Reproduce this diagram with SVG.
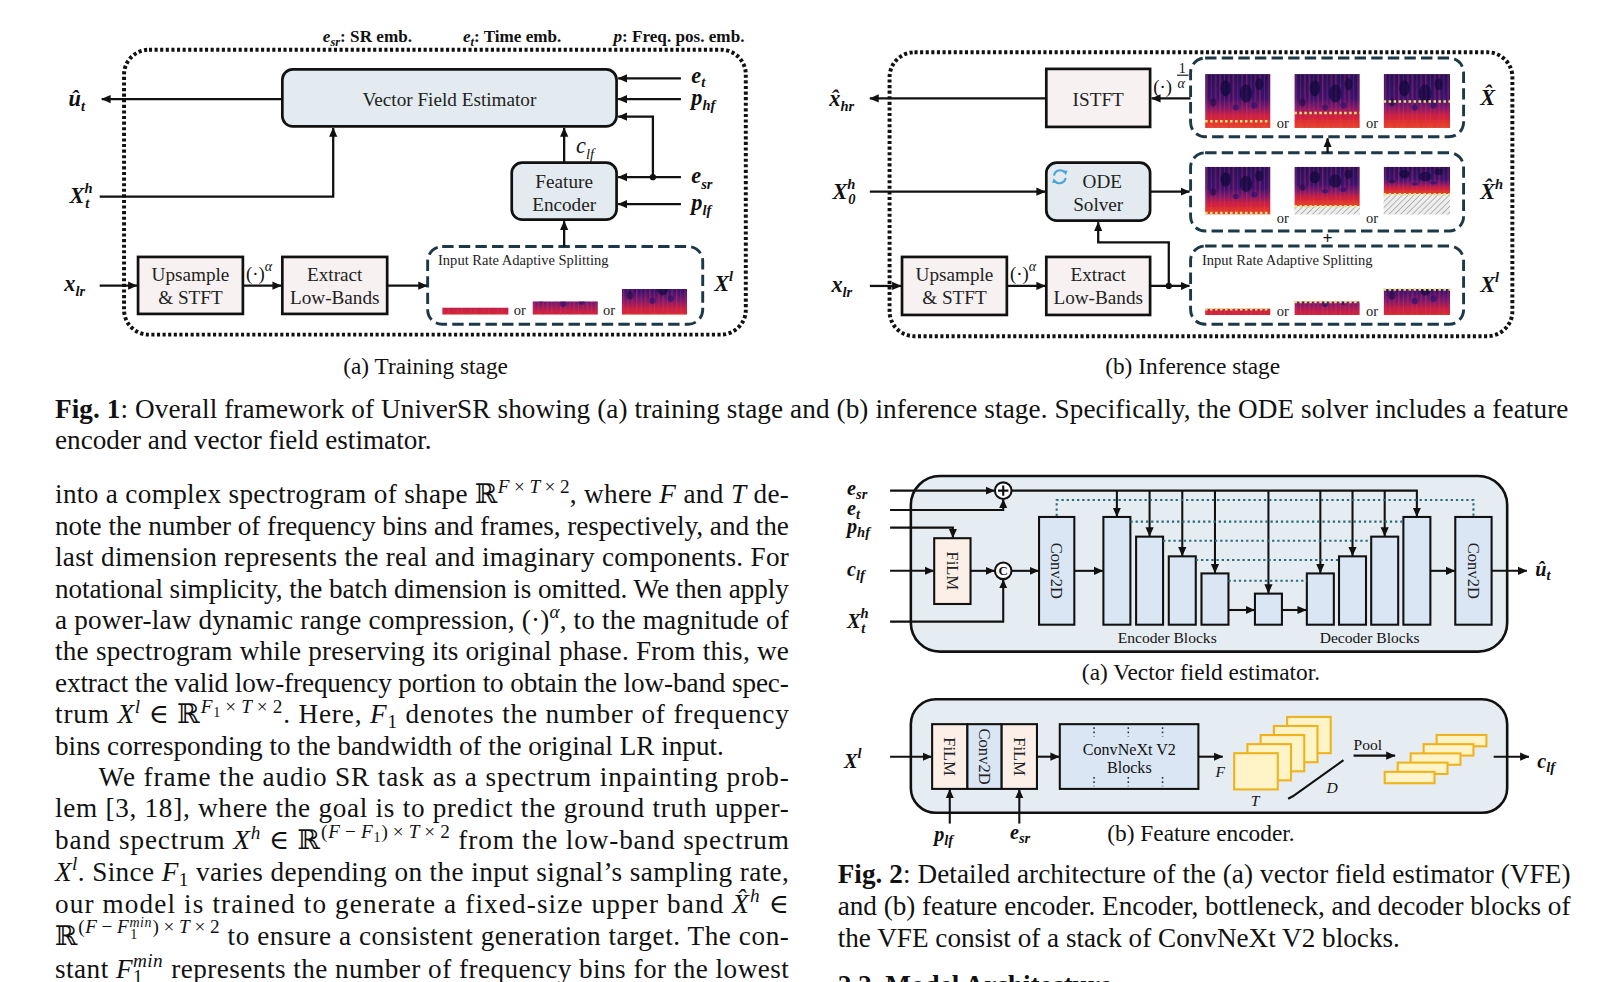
<svg xmlns="http://www.w3.org/2000/svg" width="1624" height="982" viewBox="0 0 1624 982">
<defs>
<style>
.s{font-family:"Liberation Serif","Times New Roman","DejaVu Serif",serif;fill:#111}
.lb{font-weight:bold;font-style:italic;font-size:21.5px}
.lb2{font-weight:bold;font-style:italic;font-size:19.5px}
.sb{font-size:14px}
.it{font-style:italic}
.bx{font-size:18.5px;text-anchor:middle;fill:#222}
.sm{font-size:14px;fill:#222}
.or{font-size:14px;fill:#222}
.cap{font-size:22.5px;text-anchor:middle}
.body{font-size:26.2px}
.sp{font-size:18.5px}
.ss{font-size:13.5px}
.ln{fill:none;stroke:#111;stroke-width:2.2}
.ln2{fill:none;stroke:#111;stroke-width:2}
.ar{marker-end:url(#ah)}
.box{stroke:#111;stroke-width:2.6}
.fb{fill:#e3ebf0}
.fp{fill:#f8f1f1}
.dot{fill:none;stroke:#111;stroke-width:3.8;stroke-dasharray:3 2.4}
.dash{fill:none;stroke:#1d3846;stroke-width:2.8;stroke-dasharray:11 5}
.panel{fill:#e6edf2;stroke:#111;stroke-width:2.5}
.blk{fill:#dae6f3;stroke:#111;stroke-width:2}
.film{fill:#fcefe8;stroke:#111;stroke-width:2}
.skip{fill:none;stroke:#2b6b7c;stroke-width:2;stroke-dasharray:2.2 2.8}
.yl{fill:#fff3c8;stroke:#f0b21c;stroke-width:2}
.ydot{fill:none;stroke:#e6e27a;stroke-width:2.4;stroke-dasharray:2.4 2.4}
.rot{font-size:16px;text-anchor:middle;fill:#222}
</style>
<marker id="ah" viewBox="0 0 10 10" refX="9.5" refY="5" markerWidth="9" markerHeight="9" markerUnits="userSpaceOnUse" orient="auto"><path d="M0,0.6 L10,5 L0,9.4 z" fill="#111"/></marker>
<linearGradient id="sg" x1="0" y1="0" x2="0" y2="1">
<stop offset="0" stop-color="#24105a"/><stop offset="0.45" stop-color="#38136e"/><stop offset="0.62" stop-color="#7a1a6c"/><stop offset="0.76" stop-color="#c82042"/><stop offset="0.9" stop-color="#dc2c2c"/><stop offset="1" stop-color="#e4462a"/>
</linearGradient>
<pattern id="vs" width="13" height="53" patternUnits="userSpaceOnUse">
<rect x="1" width="1.3" height="53" fill="#d82a68" opacity="0.5"/><rect x="5.5" width="0.8" height="53" fill="#f04a78" opacity="0.3"/><rect x="9.5" width="1.6" height="53" fill="#c82458" opacity="0.4"/>
</pattern>
<pattern id="hatch" width="4" height="4" patternUnits="userSpaceOnUse" patternTransform="rotate(45)"><rect width="4" height="4" fill="#eeeeee"/><line x1="0" y1="0" x2="0" y2="4" stroke="#a9a9a9" stroke-width="1.6"/></pattern>
<g id="specC">
<rect width="64" height="53" fill="url(#sg)"/>
<rect width="64" height="53" fill="url(#vs)"/>
<ellipse cx="20" cy="14" rx="5" ry="8" fill="#10083c" opacity="0.75"/>
<ellipse cx="40" cy="19" rx="6" ry="9" fill="#10083c" opacity="0.65"/>
<ellipse cx="53" cy="10" rx="4" ry="6" fill="#10083c" opacity="0.65"/>
<ellipse cx="8" cy="28" rx="3" ry="4" fill="#10083c" opacity="0.5"/>
<ellipse cx="30" cy="33" rx="3" ry="3" fill="#20106a" opacity="0.6"/>
<ellipse cx="48" cy="31" rx="3" ry="3" fill="#20106a" opacity="0.6"/>
<rect x="0" y="45" width="64" height="8" fill="#ef4a2e" opacity="0.3"/>
</g>
<symbol id="spF" viewBox="0 0 64 53" preserveAspectRatio="none"><use href="#specC"/></symbol>
<symbol id="spL24" viewBox="0 22 64 24" preserveAspectRatio="none"><use href="#specC"/></symbol>
<symbol id="spL12" viewBox="0 31 64 12" preserveAspectRatio="none"><use href="#specC"/></symbol>
<symbol id="spL6" viewBox="0 39 64 6" preserveAspectRatio="none"><use href="#specC"/></symbol>
</defs>
<rect width="1624" height="982" fill="#ffffff"/>
<g transform="scale(1.038 1.036)">

<!-- ============ FIG 1 (a) ============ -->
<g id="fig1a">
<g id="a-frame"><rect class="dot" x="119.5" y="48" width="599" height="275" rx="24"/></g>
<g id="a-legend" class="s" font-weight="bold" font-size="16.5">
<text x="311" y="41"><tspan class="it">e</tspan><tspan class="it" font-size="12" dy="3">sr</tspan><tspan dy="-3">: SR emb.</tspan></text>
<text x="446" y="41"><tspan class="it">e</tspan><tspan class="it" font-size="12" dy="3">t</tspan><tspan dy="-3">: Time emb.</tspan></text>
<text x="591" y="41"><tspan class="it">p</tspan>: Freq. pos. emb.</text>
</g>
<g id="a-vfe"><rect class="box fb" x="272" y="67" width="322" height="55" rx="10"/><text class="s bx" x="433" y="102.5">Vector Field Estimator</text></g>
<g id="a-fe"><rect class="box fb" x="493" y="157" width="101" height="55" rx="10"/><text class="s bx" x="543.5" y="181.5">Feature</text><text class="s bx" x="543.5" y="203.5">Encoder</text></g>
<g id="a-up"><rect class="box fp" x="133" y="248" width="101" height="55"/><text class="s bx" x="183.5" y="271.5">Upsample</text><text class="s bx" x="183.5" y="293.5">&amp; STFT</text></g>
<g id="a-ex"><rect class="box fp" x="272" y="248" width="101" height="55"/><text class="s bx" x="322.5" y="271.5">Extract</text><text class="s bx" x="322.5" y="293.5">Low-Bands</text></g>
<g id="a-split">
<rect class="dash" x="412" y="238" width="265" height="75" rx="14"/>
<text class="s sm" x="422" y="256">Input Rate Adaptive Splitting</text>
<use href="#spL6" x="426" y="297" width="64" height="6.5"/>
<text class="s or" x="495" y="304">or</text>
<use href="#spL12" x="513" y="291" width="63" height="12.5"/>
<text class="s or" x="581" y="304">or</text>
<use href="#spL24" x="599" y="279" width="63" height="24.5"/>
</g>
<g id="a-labels" class="s lb">
<text x="66" y="102">û<tspan class="sb" dy="5">t</tspan></text>
<text x="67" y="196">X<tspan class="sb" dy="-10">h</tspan><tspan class="sb" dx="-7" dy="15">t</tspan></text>
<text x="62" y="281">x<tspan class="sb" dy="5">lr</tspan></text>
<text x="666" y="80">e<tspan class="sb" dy="4">t</tspan></text>
<text x="666" y="101">p<tspan class="sb" dy="5">hf</tspan></text>
<text x="666" y="177">e<tspan class="sb" dy="5">sr</tspan></text>
<text x="666" y="203">p<tspan class="sb" dy="5">lf</tspan></text>
<text x="688" y="281">X<tspan class="sb" dy="-10">l</tspan></text>
<text x="555" y="148" font-weight="normal">c<tspan class="sb" dy="5">lf</tspan></text>
</g>
<g id="a-alpha" class="s"><text x="237" y="270" font-size="18">(·)</text><text x="255" y="262" font-size="13.5" font-style="italic">α</text></g>
<g id="a-connectors">
<path class="ln ar" d="M271,95.6 H98"/>
<path class="ln ar" d="M656,75.6 H595.5"/>
<path class="ln ar" d="M656,95.6 H595.5"/>
<path class="ln ar" d="M629,171 V112.6 H595.5"/>
<path class="ln ar" d="M656,171 H595.5"/>
<path class="ln ar" d="M656,197 H595.5"/>
<path class="ln ar" d="M543.5,157 V123.5"/>
<path class="ln ar" d="M96,189.8 H321 V123.5"/>
<path class="ln ar" d="M96,275.7 H132"/>
<path class="ln ar" d="M234,275.7 H271"/>
<path class="ln ar" d="M373,275.7 H411.5"/>
<path class="ln ar" d="M543.5,238 V213.5"/>
<circle cx="629" cy="171" r="3" fill="#111"/>
</g>
<text class="s cap" x="410" y="361">(a) Training stage</text>
</g>

<!-- ============ FIG 1 (b) ============ -->
<g id="fig1b">
<g id="b-frame"><rect class="dot" x="857" y="50.5" width="600" height="274" rx="24"/></g>
<g id="b-istft"><rect class="box fp" x="1008" y="66.5" width="100" height="56"/><text class="s bx" x="1058" y="102">ISTFT</text></g>
<g id="b-ode"><rect class="box fb" x="1008" y="157" width="100" height="56" rx="10"/>
<path d="M1015.4,169.4 A6,6 0 0 1 1026,166.6" fill="none" stroke="#4aa3d8" stroke-width="2"/><path d="M1023.6,164.4 L1028.4,164.8 L1026.8,169.2 z" fill="#4aa3d8"/>
<path d="M1026.6,171.8 A6,6 0 0 1 1016,174.6" fill="none" stroke="#4aa3d8" stroke-width="2"/><path d="M1018.4,176.8 L1013.6,176.4 L1015.2,172 z" fill="#4aa3d8"/>
<text class="s bx" x="1062" y="181">ODE</text><text class="s bx" x="1058" y="204">Solver</text></g>
<g id="b-up"><rect class="box fp" x="869" y="248" width="101" height="56"/><text class="s bx" x="919.5" y="271.5">Upsample</text><text class="s bx" x="919.5" y="293.5">&amp; STFT</text></g>
<g id="b-ex"><rect class="box fp" x="1008" y="248" width="100" height="56"/><text class="s bx" x="1058" y="271.5">Extract</text><text class="s bx" x="1058" y="293.5">Low-Bands</text></g>
<g id="b-xhat">
<rect class="dash" x="1147" y="56" width="263" height="76" rx="14"/>
<use href="#spF" x="1161" y="71.5" width="63" height="52"/><line class="ydot" x1="1161" y1="117" x2="1224" y2="117"/>
<text class="s or" x="1230" y="124">or</text>
<use href="#spF" x="1247" y="71.5" width="63" height="52"/><line class="ydot" x1="1247" y1="109" x2="1310" y2="109"/>
<text class="s or" x="1316" y="124">or</text>
<use href="#spF" x="1333" y="71.5" width="64" height="52"/><line class="ydot" x1="1333" y1="98" x2="1397" y2="98"/>
</g>
<g id="b-xhath">
<rect class="dash" x="1147" y="147.5" width="263" height="75.5" rx="14"/>
<use href="#spF" x="1161" y="161" width="63" height="46"/><line class="ydot" x1="1161" y1="205.5" x2="1224" y2="205.5"/>
<text class="s or" x="1230" y="215">or</text>
<use href="#spF" x="1247" y="161" width="63" height="38"/><rect x="1247" y="199" width="63" height="8" fill="url(#hatch)"/><line class="ydot" x1="1247" y1="199" x2="1310" y2="199"/>
<text class="s or" x="1316" y="215">or</text>
<use href="#spF" x="1333" y="161" width="64" height="26.5"/><rect x="1333" y="187.5" width="64" height="19.5" fill="url(#hatch)"/><line class="ydot" x1="1333" y1="187.5" x2="1397" y2="187.5"/>
</g>
<g id="b-split">
<rect class="dash" x="1147" y="237.5" width="263" height="75.5" rx="14"/>
<text class="s sm" x="1158" y="256">Input Rate Adaptive Splitting</text>
<use href="#spL6" x="1161" y="298" width="63" height="6"/><line class="ydot" x1="1161" y1="298.5" x2="1224" y2="298.5"/>
<text class="s or" x="1230" y="305">or</text>
<use href="#spL12" x="1247" y="291" width="63" height="13"/><line class="ydot" x1="1247" y1="291.5" x2="1310" y2="291.5"/>
<text class="s or" x="1316" y="305">or</text>
<use href="#spL24" x="1333" y="279" width="64" height="25"/><line class="ydot" x1="1333" y1="279.5" x2="1397" y2="279.5"/>
</g>
<g id="b-labels" class="s lb">
<text x="799" y="102">x&#x302;<tspan class="sb" dy="5">hr</tspan></text>
<text x="802" y="192">X<tspan class="sb" dy="-10">h</tspan><tspan class="sb" dx="-7" dy="15">0</tspan></text>
<text x="801" y="282">x<tspan class="sb" dy="5">lr</tspan></text>
<text x="1426" y="101">X&#x302;</text>
<text x="1426" y="192">X&#x302;<tspan class="sb" dy="-10">h</tspan></text>
<text x="1426" y="282">X<tspan class="sb" dy="-10">l</tspan></text>
</g>
<g id="b-alpha" class="s">
<text x="973" y="270" font-size="18">(·)</text><text x="991" y="262" font-size="13.5" font-style="italic">α</text>
<text x="1111" y="90" font-size="18">(·)</text>
<text x="1135.5" y="70" font-size="13.5">1</text><line x1="1134" y1="72.6" x2="1145" y2="72.6" stroke="#111" stroke-width="1.1"/><text x="1134.5" y="84.5" font-size="13.5" font-style="italic">α</text>
</g>
<g id="b-connectors">
<path class="ln ar" d="M1008,95 H838"/>
<path class="ln ar" d="M1147,95 H1109.5"/>
<path class="ln ar" d="M838,185 H1007"/>
<path class="ln ar" d="M1108,185 H1146"/>
<path class="ln ar" d="M1279,147.5 V133.5"/>
<path class="ln ar" d="M838,276 H868"/>
<path class="ln ar" d="M970,276 H1007"/>
<path class="ln ar" d="M1108,276 H1146"/>
<path class="ln ar" d="M1126,276 V234 H1058 V214.5"/>
<circle cx="1126" cy="276" r="3" fill="#111"/>
</g>
<text class="s" x="1279" y="236" font-size="17" font-weight="bold" text-anchor="middle">+</text>
<text class="s cap" x="1149" y="361">(b) Inference stage</text>
</g>

<!-- ============ CAPTION FIG 1 ============ -->
<g id="cap1" class="s body">
<text x="53" y="403" textLength="1458" lengthAdjust="spacing"><tspan font-weight="bold">Fig. 1</tspan>: Overall framework of UniverSR  showing (a) training stage and (b) inference stage. Specifically, the ODE solver includes a feature</text>
<text x="53" y="433">encoder and vector field estimator.</text>
</g>

<!-- ============ BODY TEXT ============ -->
<g id="bodytext" class="s body">
<text x="53" y="486" textLength="707" lengthAdjust="spacing">into a complex spectrogram of shape ℝ<tspan class="sp" dy="-10"><tspan class="it">F</tspan><tspan dx="4">×</tspan><tspan class="it" dx="4">T</tspan><tspan dx="4">×</tspan><tspan dx="4">2</tspan></tspan><tspan dy="10">, where </tspan><tspan class="it">F</tspan> and <tspan class="it">T</tspan> de-</text>
<text x="53" y="516" textLength="707" lengthAdjust="spacing">note the number of frequency bins and frames, respectively, and the</text>
<text x="53" y="546.5" textLength="707" lengthAdjust="spacing">last dimension represents the real and imaginary components. For</text>
<text x="53" y="577" textLength="707" lengthAdjust="spacing">notational simplicity, the batch dimension is omitted. We then apply</text>
<text x="53" y="607" textLength="707" lengthAdjust="spacing">a power-law dynamic range compression, (·)<tspan class="sp it" dy="-10">α</tspan><tspan dy="10">, to the magnitude of</tspan></text>
<text x="53" y="637.5" textLength="707" lengthAdjust="spacing">the spectrogram while preserving its original phase. From this, we</text>
<text x="53" y="668" textLength="707" lengthAdjust="spacing">extract the valid low-frequency portion to obtain the low-band spec-</text>
<text x="53" y="698" textLength="707" lengthAdjust="spacing">trum <tspan class="it">X</tspan><tspan class="sp it" dy="-10">l</tspan><tspan dy="10"> ∈ ℝ</tspan><tspan class="sp it" dy="-10">F</tspan><tspan class="ss" dy="4">1</tspan><tspan class="sp" dx="4" dy="-4">×</tspan><tspan class="sp it" dx="4">T</tspan><tspan class="sp" dx="4">×</tspan><tspan class="sp" dx="4">2</tspan><tspan dy="10">. Here, </tspan><tspan class="it">F</tspan><tspan class="sp" dy="5">1</tspan><tspan dy="-5"> denotes the number of frequency</tspan></text>
<text x="53" y="728.5">bins corresponding to the bandwidth of the original LR input.</text>
<text x="95" y="759" textLength="665" lengthAdjust="spacing">We frame the audio SR task as a spectrum inpainting prob-</text>
<text x="53" y="789" textLength="707" lengthAdjust="spacing">lem [3, 18], where the goal is to predict the ground truth upper-</text>
<text x="53" y="819.5" textLength="707" lengthAdjust="spacing">band spectrum <tspan class="it">X</tspan><tspan class="sp it" dy="-10">h</tspan><tspan dy="10"> ∈ ℝ</tspan><tspan class="sp" dy="-11">(<tspan class="it">F</tspan><tspan dx="4">−</tspan><tspan class="it" dx="4">F</tspan></tspan><tspan class="ss" dy="4">1</tspan><tspan class="sp" dy="-4">)<tspan dx="4">×</tspan><tspan class="it" dx="4">T</tspan><tspan dx="4">×</tspan><tspan dx="4">2</tspan></tspan><tspan dy="11"> from the low-band spectrum</tspan></text>
<text x="53" y="850" textLength="707" lengthAdjust="spacing"><tspan class="it">X</tspan><tspan class="sp it" dy="-10">l</tspan><tspan dy="10">. Since </tspan><tspan class="it">F</tspan><tspan class="sp" dy="5">1</tspan><tspan dy="-5"> varies depending on the input signal’s sampling rate,</tspan></text>
<text x="53" y="881" textLength="707" lengthAdjust="spacing">our model is trained to generate a fixed-size upper band <tspan class="it">X&#x302;</tspan><tspan class="sp it" dy="-10">h</tspan><tspan dy="10"> ∈</tspan></text>
<text x="53" y="912" textLength="707" lengthAdjust="spacing">ℝ<tspan class="sp" dy="-11">(<tspan class="it">F</tspan><tspan dx="4">−</tspan><tspan class="it" dx="4">F</tspan></tspan><tspan class="ss it" dy="-6">min</tspan><tspan class="ss" dx="-21" dy="11">1</tspan><tspan class="sp" dx="14" dy="-5">)<tspan dx="4">×</tspan><tspan class="it" dx="4">T</tspan><tspan dx="4">×</tspan><tspan dx="4">2</tspan></tspan><tspan dy="11"> to ensure a consistent generation target. The con-</tspan></text>
<text x="53" y="944" textLength="707" lengthAdjust="spacing">stant <tspan class="it">F</tspan><tspan class="sp it" dy="-11">min</tspan><tspan class="sp" dx="-29" dy="16">1</tspan><tspan dx="20" dy="-5"> represents the number of frequency bins for the lowest</tspan></text>
</g>

<!-- ============ FIG 2 (a) ============ -->
<g id="fig2a">
<g id="v-panel"><rect class="panel" x="877.5" y="459.5" width="574.5" height="169.5" rx="28"/></g>
<g id="v-add"><circle cx="966.5" cy="473.6" r="8" fill="#fff" stroke="#111" stroke-width="2"/><path d="M961.5,473.6 H971.5 M966.5,468.6 V478.6" stroke="#111" stroke-width="2"/></g>
<g id="v-cat"><circle cx="966.5" cy="551" r="8" fill="#fff" stroke="#111" stroke-width="2"/><text class="s" x="966.5" y="555.5" font-size="12.5" font-weight="bold" text-anchor="middle">C</text></g>
<g id="v-film"><rect class="film" x="900" y="519.5" width="35" height="63.5"/><text class="s rot" transform="translate(917.5,551) rotate(90)" dy="0.34em">FiLM</text></g>
<g id="v-conv-in"><rect class="blk" x="1001" y="499" width="34" height="104"/><text class="s rot" transform="translate(1018,551) rotate(90)" dy="0.34em">Conv2D</text></g>
<g id="v-enc1"><rect class="blk" x="1063" y="499" width="26" height="104"/></g>
<g id="v-enc2"><rect class="blk" x="1094.5" y="518" width="26" height="85"/></g>
<g id="v-enc3"><rect class="blk" x="1126" y="537" width="26" height="66"/></g>
<g id="v-enc4"><rect class="blk" x="1157.5" y="553.5" width="26" height="49.5"/></g>
<g id="v-bott"><rect class="blk" x="1209" y="573" width="26" height="30"/></g>
<g id="v-dec1"><rect class="blk" x="1259" y="553.5" width="26" height="49.5"/></g>
<g id="v-dec2"><rect class="blk" x="1290" y="537" width="26" height="66"/></g>
<g id="v-dec3"><rect class="blk" x="1321" y="518" width="26" height="85"/></g>
<g id="v-dec4"><rect class="blk" x="1352" y="499" width="26" height="104"/></g>
<g id="v-conv-out"><rect class="blk" x="1402" y="499" width="35" height="104"/><text class="s rot" transform="translate(1419.5,551) rotate(90)" dy="0.34em">Conv2D</text></g>
<text class="s" x="1124.5" y="621" font-size="15" fill="#222" text-anchor="middle">Encoder Blocks</text>
<text class="s" x="1319.5" y="621" font-size="15" fill="#222" text-anchor="middle">Decoder Blocks</text>
<g id="v-labels" class="s lb2">
<text x="816" y="478">e<tspan class="sb" dy="4">sr</tspan></text>
<text x="816" y="497">e<tspan class="sb" dy="4">t</tspan></text>
<text x="816" y="514">p<tspan class="sb" dy="4">hf</tspan></text>
<text x="816" y="556">c<tspan class="sb" dy="4">lf</tspan></text>
<text x="816" y="606">X<tspan class="sb" dy="-9">h</tspan><tspan class="sb" dx="-7" dy="14">t</tspan></text>
<text x="1479" y="556">û<tspan class="sb" dy="4">t</tspan></text>
</g>
<g id="v-connectors">
<path class="ln2 ar" d="M857.5,473.6 H958"/>
<path class="ln2 ar" d="M857.5,492.3 H966.5 V482"/>
<path class="ln2 ar" d="M857.5,509.3 H918 V519"/>
<path class="ln2 ar" d="M857.5,551 H899.5"/>
<path class="ln2 ar" d="M935,551 H958"/>
<path class="ln2 ar" d="M857.5,600 H966.5 V559.5"/>
<path class="ln2 ar" d="M974.5,551 H1000.5"/>
<path class="ln2 ar" d="M974.5,473.6 H1365 V498.5"/>
<path class="ln2 ar" d="M1076,473.6 V498.5"/>
<path class="ln2 ar" d="M1107.5,473.6 V517.5"/>
<path class="ln2 ar" d="M1139,473.6 V536.5"/>
<path class="ln2 ar" d="M1170.5,473.6 V553"/>
<path class="ln2 ar" d="M1222,473.6 V572.5"/>
<path class="ln2 ar" d="M1272,473.6 V553"/>
<path class="ln2 ar" d="M1303,473.6 V536.5"/>
<path class="ln2 ar" d="M1334,473.6 V517.5"/>
<path class="ln2 ar" d="M1035,551 H1062.5"/>
<path class="ln2 ar" d="M1183.5,588.8 H1208.5"/>
<path class="ln2 ar" d="M1235,588.8 H1258.5"/>
<path class="ln2 ar" d="M1378,551 H1401.5"/>
<path class="ln2 ar" d="M1437,551 H1471"/>
<path class="skip" d="M1018,498 V482.6 H1419.5 V498"/>
<path class="skip" d="M1089,503.5 H1352"/>
<path class="skip" d="M1120.5,522 H1321"/>
<path class="skip" d="M1152,540.5 H1290"/>
<path class="skip" d="M1183.5,560.5 H1259"/>
</g>
<text class="s cap" x="1157" y="656">(a) Vector field estimator.</text>
</g>

<!-- ============ FIG 2 (b) ============ -->
<g id="fig2b">
<g id="f-panel"><rect class="panel" x="877.5" y="675" width="574.5" height="109.5" rx="24"/></g>
<g id="f-film1"><rect class="film" x="898" y="699" width="34" height="62.5"/><text class="s rot" transform="translate(915,730.3) rotate(90)" dy="0.34em">FiLM</text></g>
<g id="f-conv"><rect class="blk" x="932" y="699" width="33" height="62.5"/><text class="s rot" transform="translate(948.5,730.3) rotate(90)" dy="0.34em">Conv2D</text></g>
<g id="f-film2"><rect class="film" x="965" y="699" width="34" height="62.5"/><text class="s rot" transform="translate(982,730.3) rotate(90)" dy="0.34em">FiLM</text></g>
<g id="f-convnext"><rect class="blk" x="1021" y="699" width="133.5" height="62.5"/>
<text class="s" x="1088" y="729" font-size="15.5" fill="#222" text-anchor="middle">ConvNeXt V2</text>
<text class="s" x="1088" y="746" font-size="15.5" fill="#222" text-anchor="middle">Blocks</text>
<path d="M1054,702 V711 M1087,702 V711 M1120,702 V711 M1054,750 V759 M1087,750 V759 M1120,750 V759" stroke="#333" stroke-width="1.5" stroke-dasharray="1.6 2.6" fill="none"/></g>
<g id="f-feat">
<rect class="yl" x="1240" y="692" width="42" height="35"/>
<rect class="yl" x="1227.25" y="700.75" width="42" height="35"/>
<rect class="yl" x="1214.5" y="709.5" width="42" height="35"/>
<rect class="yl" x="1201.75" y="718.25" width="42" height="35"/>
<rect class="yl" x="1189" y="727" width="42" height="35"/>
<path d="M1241,771 L1245.5,768.6 L1294.3,733.8" fill="none" stroke="#111" stroke-width="2"/>
<text class="s it" x="1171" y="750" font-size="15">F</text>
<text class="s it" x="1205" y="778" font-size="15">T</text>
<text class="s it" x="1278" y="765" font-size="15">D</text>
</g>
<g id="f-pool">
<rect class="yl" x="1384" y="709.4" width="48" height="11"/>
<rect class="yl" x="1371.5" y="718.3" width="48" height="11"/>
<rect class="yl" x="1359" y="727.2" width="48" height="11"/>
<rect class="yl" x="1346.5" y="736.1" width="48" height="11"/>
<rect class="yl" x="1334" y="745" width="48" height="11"/>
<text class="s" x="1304" y="724" font-size="15" fill="#222">Pool</text>
</g>
<g id="f-labels" class="s lb2">
<text x="813" y="741">X<tspan class="sb" dy="-9">l</tspan></text>
<text x="1481" y="741">c<tspan class="sb" dy="4">lf</tspan></text>
<text x="900" y="812">p<tspan class="sb" dy="4">lf</tspan></text>
<text x="973" y="810">e<tspan class="sb" dy="4">sr</tspan></text>
</g>
<g id="f-connectors">
<path class="ln2 ar" d="M857.5,730.4 H897.5"/>
<path class="ln2 ar" d="M999,730.4 H1020.5"/>
<path class="ln2 ar" d="M1154.5,730.4 H1178"/>
<path class="ln2 ar" d="M1304,729.4 H1344"/>
<path class="ln2 ar" d="M1439,730.4 H1473"/>
<path class="ln2 ar" d="M915,795 V762"/>
<path class="ln2 ar" d="M982,795 V762"/>
</g>
<text class="s cap" x="1157" y="812">(b) Feature encoder.</text>
</g>

<!-- ============ CAPTION FIG 2 ============ -->
<g id="cap2" class="s body">
<text x="807" y="852" textLength="706" lengthAdjust="spacing"><tspan font-weight="bold">Fig. 2</tspan>: Detailed architecture of the (a) vector field estimator (VFE)</text>
<text x="807" y="883" textLength="706" lengthAdjust="spacing">and (b) feature encoder. Encoder, bottleneck, and decoder blocks of</text>
<text x="807" y="914">the VFE consist of a stack of ConvNeXt V2 blocks.</text>
<text x="807" y="959" font-weight="bold">2.2.  Model Architecture</text>
</g>
</g>
</svg>
